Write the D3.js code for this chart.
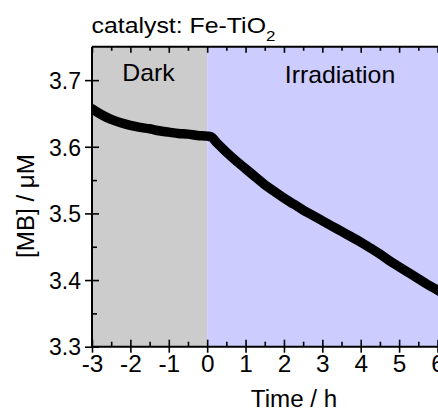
<!DOCTYPE html>
<html>
<head>
<meta charset="utf-8">
<script src="https://cdn.jsdelivr.net/npm/d3@7"></script>
<style>
  body { margin: 0; background: #fff; }
  svg { display: block; font-family: "Liberation Sans", Arial, sans-serif; }
</style>
</head>
<body>
<div id="chart"></div>
<script>
// ---- data ----
var darkTime = [-3, -2.75, -2.5, -2.25, -2, -1.75, -1.5, -1.25, -1, -0.75, -0.5, -0.25, 0];
var darkConc = [3.657, 3.648, 3.641, 3.636, 3.632, 3.629, 3.627, 3.624, 3.622, 3.620, 3.619, 3.617, 3.616];

var irrTime = [0.1, 0.25, 0.5, 0.75, 1, 1.25, 1.5, 1.75, 2, 2.25, 2.5, 2.75, 3, 3.25, 3.5, 3.75, 4, 4.25, 4.5, 4.75, 5, 5.25, 5.5, 5.75, 6, 6.25];
var irrConc = [3.615, 3.606, 3.592, 3.579, 3.567, 3.555, 3.543, 3.533, 3.523, 3.514, 3.505, 3.497, 3.489, 3.481, 3.473, 3.465, 3.457, 3.448, 3.439, 3.429, 3.420, 3.411, 3.402, 3.393, 3.385, 3.376];

var xTicks = [-3, -2, -1, 0, 1, 2, 3, 4, 5, 6, 7];
var xMinor = [-2.5, -1.5, -0.5, 0.5, 1.5, 2.5, 3.5, 4.5, 5.5, 6.5];
var yTicks = [3.3, 3.4, 3.5, 3.6, 3.7];
var yMinor = [3.35, 3.45, 3.55, 3.65];

var title = "catalyst: Fe-TiO";
var regions = [
  { name: "Dark", from: -3, to: 0, color: "#cccccc" },
  { name: "Irradiation", from: 0, to: 7.5, color: "#ccccff" }
];

var W = 438, H = 410;

// scales (plot runs on past the right edge of the picture)
var x = d3.scaleLinear().domain([-3, 6]).range([92, 437.5]);
var y = d3.scaleLinear().domain([3.3, 3.75]).range([346.7, 46.8]);
var xMax = 7.5;

var svg = d3.select("#chart").append("svg")
    .attr("width", W)
    .attr("height", H);

svg.append("defs").append("clipPath").attr("id", "plot")
  .append("rect")
    .attr("x", x(-3)).attr("y", y(3.75))
    .attr("width", x(xMax) - x(-3)).attr("height", y(3.3) - y(3.75));

// background regions
svg.selectAll(".region")
  .data(regions)
  .enter().append("rect")
    .attr("class", "region")
    .attr("x", function (d) { return x(d.from); })
    .attr("y", y(3.75))
    .attr("width", function (d) { return x(d.to) - x(d.from); })
    .attr("height", y(3.3) - y(3.75))
    .attr("fill", function (d) { return d.color; });

// stretched text helper (the original glyphs are a bit wider than Arial)
function label(g, txt, px, py, size, anchor, sx, rot) {
  var t = g.append("text")
      .attr("transform", "translate(" + px + "," + py + ")" + (rot ? " rotate(" + rot + ")" : "") + " scale(" + sx + ",1)")
      .attr("text-anchor", anchor)
      .style("font-size", size + "px")
      .attr("fill", "#000")
      .text(txt);
  return t;
}

// region labels
label(svg, "Dark", 148.5, 81, 23, "middle", 1.08);
label(svg, "Irradiation", 340, 83, 23, "middle", 1.08);

// data curve
var pts = [];
for (var i = 0; i < darkTime.length; i++) pts.push([darkTime[i], darkConc[i]]);
for (var j = 0; j < irrTime.length; j++) pts.push([irrTime[j], irrConc[j]]);

var line = d3.line()
    .x(function (d) { return x(d[0]); })
    .y(function (d) { return y(d[1]); })
    .curve(d3.curveMonotoneX);

svg.append("path")
    .datum(pts)
    .attr("clip-path", "url(#plot)")
    .attr("d", line)
    .attr("fill", "none")
    .attr("stroke", "#000")
    .attr("stroke-width", 9.5)
    .attr("stroke-linejoin", "round")
    .attr("stroke-linecap", "round");

// ---- axes ----
function styleAxis(g) {
  g.select(".domain").remove();
  g.selectAll(".tick line").attr("stroke", "#000").attr("stroke-width", 1.6);
  g.selectAll(".tick text").attr("fill", "#000").style("font-size", "23px")
    .style("font-family", "'Liberation Sans', Arial, sans-serif");
}

var yBottom = y(3.3), yTop = y(3.75), xLeft = x(-3);

// bottom: outward part with labels, inward part, minor inward
svg.append("g")
    .attr("transform", "translate(0," + yBottom + ")")
    .call(d3.axisBottom(x).tickValues(xTicks).tickSize(6).tickPadding(3)
      .tickFormat(function (d) { return String(d); }))
    .call(styleAxis)
    .selectAll(".tick text")
    .attr("transform", "scale(1.06,1)");
svg.append("g")
    .attr("transform", "translate(0," + yBottom + ")")
    .call(d3.axisBottom(x).tickValues(xTicks).tickSize(-7).tickFormat(""))
    .call(styleAxis);
svg.append("g")
    .attr("transform", "translate(0," + yBottom + ")")
    .call(d3.axisBottom(x).tickValues(xMinor).tickSize(-5).tickFormat(""))
    .call(styleAxis);

// top: inward only
svg.append("g")
    .attr("transform", "translate(0," + yTop + ")")
    .call(d3.axisTop(x).tickValues(xTicks).tickSize(-6).tickFormat(""))
    .call(styleAxis);
svg.append("g")
    .attr("transform", "translate(0," + yTop + ")")
    .call(d3.axisTop(x).tickValues(xMinor).tickSize(-4).tickFormat(""))
    .call(styleAxis);

// left
svg.append("g")
    .attr("transform", "translate(" + xLeft + ",0)")
    .call(d3.axisLeft(y).tickValues(yTicks).tickSize(7).tickPadding(4).tickFormat(d3.format(".1f")))
    .call(styleAxis)
    .selectAll(".tick text")
    .attr("dy", "0.36em");
svg.append("g")
    .attr("transform", "translate(" + xLeft + ",0)")
    .call(d3.axisLeft(y).tickValues(yTicks).tickSize(-7).tickFormat(""))
    .call(styleAxis);
svg.append("g")
    .attr("transform", "translate(" + xLeft + ",0)")
    .call(d3.axisLeft(y).tickValues(yMinor).tickSize(-5).tickFormat(""))
    .call(styleAxis);

// frame lines
svg.append("line").attr("x1", xLeft).attr("x2", xLeft).attr("y1", yTop).attr("y2", yBottom)
    .attr("stroke", "#000").attr("stroke-width", 2);
svg.append("line").attr("x1", xLeft).attr("x2", W).attr("y1", yBottom).attr("y2", yBottom)
    .attr("stroke", "#000").attr("stroke-width", 2);
svg.append("line").attr("x1", xLeft).attr("x2", W).attr("y1", yTop).attr("y2", yTop)
    .attr("stroke", "#000").attr("stroke-width", 2);

// titles
var t = label(svg, title, 91.5, 33, 22, "start", 1.13);
t.append("tspan").attr("dy", 8).style("font-size", "15px").text("2");

label(svg, "Time / h", 294, 406.5, 23, "middle", 1.05);
label(svg, "[MB] / \u03bcM", 34, 206, 23, "middle", 1.05, -90);
</script>
</body>
</html>
